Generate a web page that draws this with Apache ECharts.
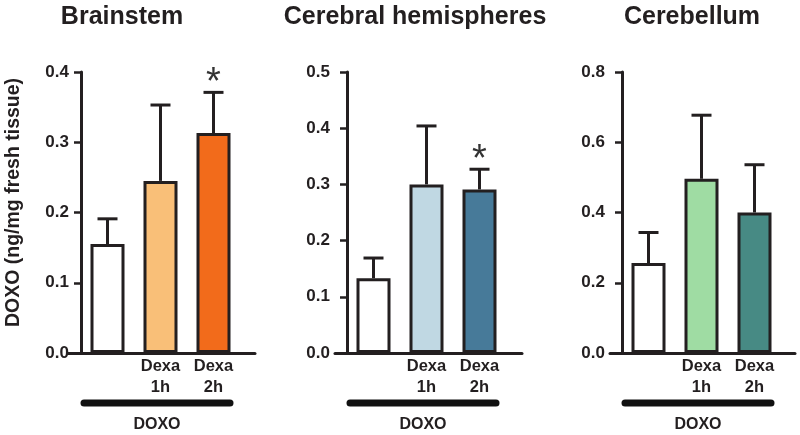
<!DOCTYPE html>
<html>
<head>
<meta charset="utf-8">
<script src="https://cdn.jsdelivr.net/npm/echarts@6/dist/echarts.min.js"></script>
<style>
html,body{margin:0;padding:0;background:#fff;}
#chart{width:800px;height:435px;}
</style>
</head>
<body>
<div id="chart"></div>
<script>
// ---- data ----
const categories = ['', 'Dexa\n1h', 'Dexa\n2h'];
const panelTitles = ['Brainstem', 'Cerebral hemispheres', 'Cerebellum'];
const groupLabel = 'DOXO';
const yAxisTitle = 'DOXO (ng/mg fresh tissue)';
const brainstemMean = [0.155, 0.245, 0.313];
const brainstemSD = [0.036, 0.108, 0.058];
const cerebralMean = [0.133, 0.300, 0.291];
const cerebralSD = [0.036, 0.104, 0.036];
const cerebellumMean = [0.256, 0.496, 0.400];
const cerebellumSD = [0.087, 0.181, 0.136];
const brainstemSig = [false, false, true];
const cerebralSig = [false, false, true];
const cerebellumSig = [false, false, false];
const yMaxes = [0.4, 0.5, 0.8];
const yIntervals = [0.1, 0.1, 0.2];

// ---- styles ----
const palettes = [
  ['#ffffff', '#f9bf78', '#f26b1b'],
  ['#ffffff', '#c0d8e3', '#477a99'],
  ['#ffffff', '#9fdca3', '#478a84']
];
const INK = '#231f20';
const FONT = "'Liberation Sans', Arial, Helvetica, sans-serif";
const gridLefts = [81, 347, 622];
const gridWidth = 159;
const extLefts = [68, 335, 610];
const extWidths = [187, 187, 185];
const labelMargins = [12, 17, 17];
const titleCenters = [122, 415, 692];
const TOP = 72, HEIGHT = 281;

const means = [brainstemMean, cerebralMean, cerebellumMean];
const sds = [brainstemSD, cerebralSD, cerebellumSD];
const sigs = [brainstemSig, cerebralSig, cerebellumSig];

const grid = [], xAxis = [], yAxis = [], series = [], title = [];

for (let p = 0; p < 3; p++) {
  grid.push({ left: gridLefts[p], top: TOP, width: gridWidth, height: HEIGHT, containLabel: false });
  xAxis.push({
    type: 'category', gridIndex: grid.length - 1, data: categories,
    axisLine: { show: false }, axisTick: { show: false },
    axisLabel: {
      color: INK, fontFamily: FONT, fontWeight: 'bold', fontSize: 16.5,
      lineHeight: 21, margin: 3, interval: 0
    }
  });
  yAxis.push({
    type: 'value', gridIndex: grid.length - 1, min: 0, max: yMaxes[p], interval: yIntervals[p],
    splitLine: { show: false },
    axisLine: { show: true, lineStyle: { color: INK, width: 3 } },
    axisTick: { show: true, inside: false, length: 7, lineStyle: { color: INK, width: 2.5 } },
    axisLabel: {
      color: INK, fontFamily: FONT, fontWeight: 'bold', fontSize: 17, margin: labelMargins[p],
      formatter: v => v.toFixed(1)
    },
    name: p === 0 ? yAxisTitle : '',
    nameLocation: 'middle', nameGap: 57, nameRotate: 90,
    nameTextStyle: { color: INK, fontFamily: FONT, fontWeight: 'bold', fontSize: 19.5, padding: [0, 0, 0, 20] }
  });
  const gi = grid.length - 1;
  series.push({
    type: 'bar', xAxisIndex: gi, yAxisIndex: gi, barWidth: 34, z: 3,
    data: means[p].map((v, i) => ({
      value: v,
      itemStyle: { color: palettes[p][i], borderColor: INK, borderWidth: 3 }
    })),
    emphasis: { disabled: true }
  });
  series.push({
    type: 'custom', xAxisIndex: gi, yAxisIndex: gi, z: 2, clip: false,
    data: means[p].map((v, i) => [i, v, sds[p][i], sigs[p][i] ? 1 : 0]),
    renderItem: function (params, api) {
      const x = api.value(0), m = api.value(1), sd = api.value(2), sig = api.value(3);
      const p0 = api.coord([x, m]);
      const p1 = api.coord([x, m + sd]);
      const children = [
        { type: 'line', shape: { x1: p0[0], y1: p0[1], x2: p1[0], y2: p1[1] }, style: { stroke: INK, lineWidth: 3 } },
        { type: 'line', shape: { x1: p1[0] - 10, y1: p1[1], x2: p1[0] + 10, y2: p1[1] }, style: { stroke: INK, lineWidth: 3 } }
      ];
      if (sig) {
        children.push({
          type: 'text', z2: 10,
          style: { text: '*', x: p1[0], y: p1[1] - 9, align: 'center', verticalAlign: 'middle',
                   fontSize: 38, fontFamily: FONT, fill: '#333' }
        });
      }
      if (params.dataIndex === 0) {
        const bw = api.size([1, 0])[0];
        const zero = api.coord([0, 0]);
        const last = api.coord([categories.length - 1, 0]);
        const x1 = zero[0] - bw / 2 + 3, x2 = last[0] + bw / 2 - 10;
        children.push({
          type: 'line', shape: { x1: x1, y1: zero[1] + 50, x2: x2, y2: zero[1] + 50 },
          style: { stroke: '#111', lineWidth: 7, lineCap: 'round' }
        });
        children.push({
          type: 'text',
          style: { text: groupLabel, x: (x1 + x2) / 2, y: zero[1] + 72, align: 'center', verticalAlign: 'middle',
                   fontSize: 16, fontWeight: 'bold', fontFamily: FONT, fill: INK }
        });
      }
      return { type: 'group', children: children };
    }
  });
  grid.push({ left: extLefts[p], top: TOP, width: extWidths[p], height: HEIGHT });
  xAxis.push({
    type: 'value', gridIndex: grid.length - 1, min: 0, max: 1,
    axisLine: { show: true, onZero: false, lineStyle: { color: INK, width: 3 } },
    axisTick: { show: false }, axisLabel: { show: false }, splitLine: { show: false }
  });
  yAxis.push({ type: 'value', gridIndex: grid.length - 1, min: 0, max: 1, show: false });

  title.push({
    text: panelTitles[p], left: titleCenters[p], top: 5, textAlign: 'center', padding: 0,
    textStyle: { color: INK, fontFamily: FONT, fontWeight: 'bold', fontSize: 25 }
  });
}

const chart = echarts.init(document.getElementById('chart'), null, { renderer: 'canvas' });
chart.setOption({
  animation: false,
  backgroundColor: '#ffffff',
  title: title, grid: grid, xAxis: xAxis, yAxis: yAxis, series: series
});
</script>
</body>
</html>
